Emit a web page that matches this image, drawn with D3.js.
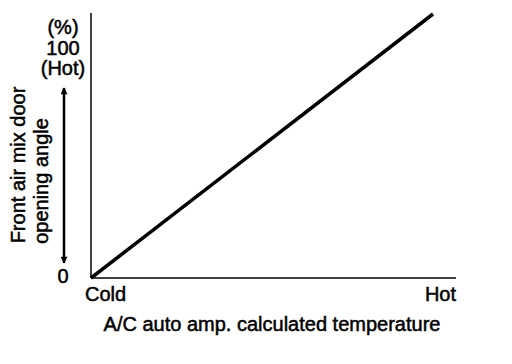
<!DOCTYPE html>
<html>
<head>
<meta charset="utf-8">
<script src="https://cdn.jsdelivr.net/npm/d3@7"></script>
<style>
	body { margin: 0; background: #fff; }
	text { font-family: "Liberation Sans", Arial, sans-serif; fill: #000; font-size: 20px; stroke: #000; stroke-width: 0.5px; }
</style>
</head>
<body>
<svg id="chart" width="512" height="364"></svg>
<script>
var temperature = [0, 100];
var openingAngle = [0, 100];
var xLabels = ['Cold', 'Hot'];
var yLabels = ['(%)', '100', '(Hot)'];

var svg = d3.select('#chart');
var x = d3.scaleLinear().domain([0, 100]).range([91, 433]);
var y = d3.scaleLinear().domain([0, 100]).range([278, 14]);

// axes
svg.append('line').attr('x1', x(0)).attr('x2', 456).attr('y1', y(0)).attr('y2', y(0))
	.attr('stroke', '#000').attr('stroke-width', 1.5);
svg.append('line').attr('x1', x(0)).attr('x2', x(0)).attr('y1', y(0)).attr('y2', 13)
	.attr('stroke', '#000').attr('stroke-width', 1.5);

// data line
var pts = temperature.map(function(t, i) { return [x(t), y(openingAngle[i])]; });
svg.append('path').attr('d', d3.line()(pts)).attr('fill', 'none')
	.attr('stroke', '#000').attr('stroke-width', 3.5);

// y labels
yLabels.forEach(function(l, i) {
	svg.append('text').attr('x', 63).attr('y', 34 + i * 20.5).attr('text-anchor', 'middle').text(l);
});
svg.append('text').attr('x', 63).attr('y', 283).attr('text-anchor', 'middle').text('0');

// double arrow
svg.append('defs').append('marker').attr('id', 'ah').attr('viewBox', '0 0 10 10')
	.attr('refX', 9).attr('refY', 5).attr('markerWidth', 12).attr('markerHeight', 7)
	.attr('markerUnits', 'userSpaceOnUse').attr('orient', 'auto-start-reverse')
	.append('path').attr('d', 'M0,0 L10,5 L0,10 Z').attr('fill', '#000');
svg.append('line').attr('x1', 64).attr('x2', 64).attr('y1', 88).attr('y2', 263)
	.attr('stroke', '#000').attr('stroke-width', 2.5)
	.attr('marker-start', 'url(#ah)').attr('marker-end', 'url(#ah)');

// y title
svg.append('text').attr('transform', 'translate(25,165) rotate(-90)').attr('text-anchor', 'middle')
	.text('Front air mix door');
svg.append('text').attr('transform', 'translate(48,181) rotate(-90)').attr('text-anchor', 'middle')
	.text('opening angle');

// x labels
svg.append('text').attr('x', 85).attr('y', 301).text(xLabels[0]);
svg.append('text').attr('x', 456).attr('y', 301).attr('text-anchor', 'end').text(xLabels[1]);
svg.append('text').attr('x', 272).attr('y', 331).attr('text-anchor', 'middle')
	.text('A/C auto amp. calculated temperature');
</script>
</body>
</html>
